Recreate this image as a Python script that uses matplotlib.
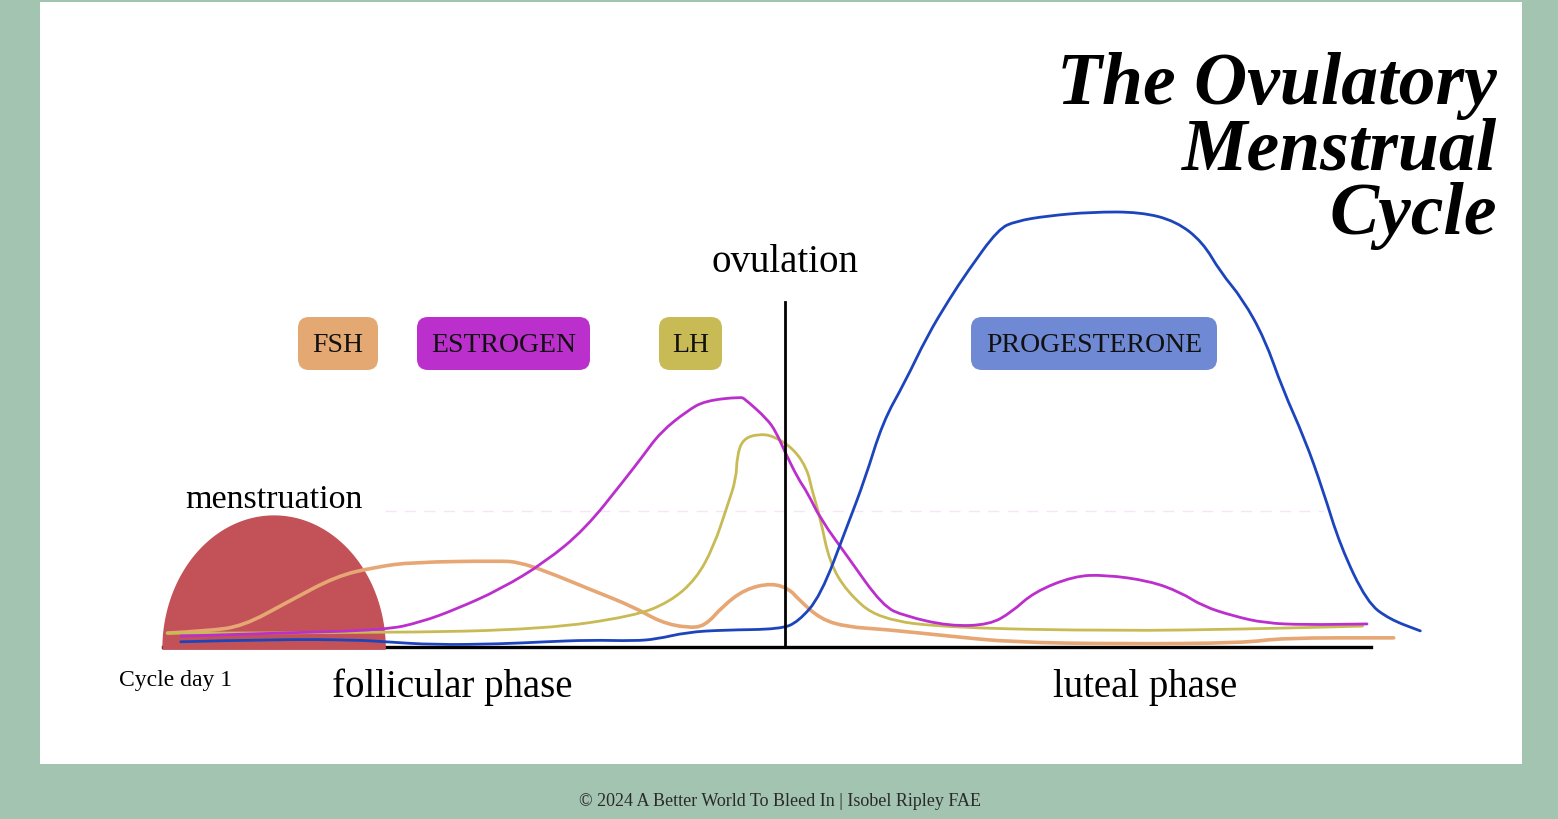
import numpy as np
import matplotlib.pyplot as plt
from matplotlib.patches import FancyBboxPatch, Rectangle, PathPatch
from matplotlib.path import Path

plt.rcParams['font.family'] = ['Liberation Serif', 'DejaVu Serif']

# cycle day (x) and relative hormone level (y, progesterone peak = 100)
fsh_day = [0.1, 1.0, 1.8, 2.8, 3.9, 4.8, 5.6, 7.6, 8.0, 8.6, 9.6, 10.6, 11.2, 11.8, 12.2,
           12.6, 13.1, 13.7, 14.1, 14.3, 14.8, 15.4, 16.2, 17.7, 19.1, 21.5, 24.3, 25.2, 27.7]
fsh_level = [3.2, 3.7, 4.8, 10.3, 16.3, 18.4, 19.5, 19.8, 19.5, 17.5, 13.3, 9.2, 5.7, 4.4, 4.8,
             9.4, 13.3, 14.7, 13.3, 11.0, 6.4, 4.6, 4.1, 2.5, 1.1, 0.7, 0.9, 2.1, 2.1]

estrogen_day = [0.4, 2.6, 5.0, 5.8, 6.6, 7.6, 8.6, 9.5, 10.4, 10.8, 11.2, 11.8, 12.2, 13.0,
                13.1, 13.6, 13.8, 14.0, 14.3, 14.5, 14.8, 15.4, 16.2, 16.7, 17.7, 18.6, 19.1,
                19.6, 20.5, 21.2, 22.2, 22.9, 23.4, 24.1, 24.8, 25.7, 27.1]
estrogen_level = [2.5, 3.2, 3.9, 5.7, 8.7, 13.3, 19.5, 27.1, 38.6, 43.9, 49.4, 54.3, 56.6, 57.5,
                  57.0, 52.4, 49.4, 44.8, 38.6, 35.6, 29.4, 20.9, 9.4, 7.1, 4.8, 5.1, 8.0,
                  12.6, 16.3, 16.6, 15.2, 12.6, 9.4, 7.1, 5.5, 5.1, 5.3]

lh_day = [0.1, 5.0, 8.6, 10.6, 11.4, 12.0, 12.4, 12.7, 12.9, 12.92, 13.05, 13.4, 13.75, 14.2,
          14.5, 14.6, 14.8, 15.0, 15.4, 16.1, 17.7, 21.5, 24.3, 27.0]
lh_level = [3.2, 3.2, 4.1, 7.1, 10.3, 15.6, 23.2, 32.4, 38.6, 43.9, 47.8, 49.0, 48.5, 45.5,
            40.9, 36.3, 29.4, 19.5, 12.6, 6.4, 4.4, 3.7, 4.1, 4.8]

prog_day = [0.4, 2.6, 4.4, 5.0, 6.1, 7.6, 8.6, 9.6, 10.6, 11.1, 11.8, 12.6, 13.9, 14.3, 14.8,
            15.4, 15.8, 16.2, 16.7, 17.2, 17.7, 18.1, 18.8, 19.2, 19.9, 20.9, 22.0, 22.8, 23.4,
            23.8, 24.3, 24.8, 25.2, 25.7, 26.1, 26.5, 27.1, 27.6, 28.3]
prog_level = [1.2, 1.8, 1.6, 1.2, 0.5, 0.7, 1.2, 1.6, 1.4, 1.8, 3.4, 3.9, 4.1, 5.8, 11.7,
              27.8, 38.6, 51.7, 60.9, 71.5, 80.0, 86.2, 96.1, 97.9, 99.1, 100, 100, 97.9, 93.1,
              86.2, 80.0, 70.8, 59.3, 47.8, 36.3, 23.2, 10.3, 6.4, 3.7]

ovulation_day = 14.0
ovulation_top = 79.3
menses = (0.0, 5.0)      # start / end day of the bleed dome
menses_height = 30.6
axis_end = 27.2

labels = ['FSH', 'ESTROGEN', 'LH', 'PROGESTERONE']
label_colors = ['#e4a872', '#bb2fcc', '#c8bb55', '#7089d4']


def smooth_line(ax, xs, ys, **kw):
    # quadratic bezier through the midpoints, read points used as control points
    pts = np.column_stack([xs, ys])
    verts = [pts[0]]
    codes = [Path.MOVETO]
    for i in range(1, len(pts) - 1):
        verts += [pts[i], (pts[i] + pts[i + 1]) / 2]
        codes += [Path.CURVE3, Path.CURVE3]
    verts.append(pts[-1])
    codes.append(Path.LINETO)
    ax.add_patch(PathPatch(Path(verts, codes), fill=False, clip_on=False,
                           capstyle='round', joinstyle='round', **kw))


W, H = 1558, 820
fig = plt.figure(figsize=(W / 100, H / 100), dpi=100, facecolor='#a3c4b1')

# overlay in pixel units for the panel, boxes and text
bg = fig.add_axes([0, 0, 1, 1])
bg.set_xlim(0, W)
bg.set_ylim(H, 0)
bg.axis('off')
bg.add_patch(Rectangle((40, 3), 1482, 762, facecolor='white', edgecolor='none'))

# chart axes: day 0..28 on x, level 0..100 on y
ax = fig.add_axes([163 / W, 1 - 648 / H, 1244 / W, 435 / H])
ax.set_xlim(0, 28)
ax.set_ylim(0, 100)
ax.axis('off')
ax.patch.set_alpha(0)

t = np.linspace(0, np.pi, 100)
mid = (menses[0] + menses[1]) / 2
rad = (menses[1] - menses[0]) / 2
ax.fill(mid + rad * np.cos(t), -0.5 + menses_height * np.sin(t), color='#c25257', zorder=2,
        clip_on=False)

ax.plot([0, axis_end], [0, 0], color='black', lw=2.4, zorder=1, clip_on=False)
ax.plot([5.0, 26.1], [31.3, 31.3], color='#d070d0', lw=1, alpha=0.18, ls=(0, (8, 6)), zorder=1)

smooth_line(ax, fsh_day, fsh_level, edgecolor='#e6a774', lw=2.6, zorder=3)
smooth_line(ax, lh_day, lh_level, edgecolor='#c8bb55', lw=2.0, zorder=3)
smooth_line(ax, estrogen_day, estrogen_level, edgecolor='#bb2fcc', lw=2.0, zorder=3)
smooth_line(ax, prog_day, prog_level, edgecolor='#1c45bd', lw=2.0, zorder=3)

ax.plot([ovulation_day, ovulation_day], [0, ovulation_top], color='black', lw=2.0, zorder=4,
        clip_on=False)

# hormone label boxes
boxes = [(298, 80), (417, 173), (659, 63), (971, 246)]
for (bx, bw), lab, col in zip(boxes, labels, label_colors):
    bg.add_patch(FancyBboxPatch((bx, 318), bw, 53, boxstyle='round,pad=0,rounding_size=11',
                                facecolor=col, edgecolor='none'))
    bg.text(bx + bw / 2, 346, lab, fontsize=20, ha='center', va='center', color='#111111')

bg.text(785, 272, 'ovulation', fontsize=28, ha='center', va='baseline')
bg.text(274, 508, 'menstruation', fontsize=24.5, ha='center', va='baseline')
bg.text(452, 697, 'follicular phase', fontsize=28, ha='center', va='baseline')
bg.text(1145, 697, 'luteal phase', fontsize=28, ha='center', va='baseline')
bg.text(176, 686, 'Cycle day 1', fontsize=17, ha='center', va='baseline')

for txt, y in [('The Ovulatory', 104), ('Menstrual', 170), ('Cycle', 234)]:
    bg.text(1497, y, txt, fontsize=53, fontweight='bold', fontstyle='italic', ha='right',
            va='baseline', color='black')

bg.text(780, 806, '\u00a9 2024 A Better World To Bleed In | Isobel Ripley FAE', fontsize=13,
        ha='center', va='baseline', color='#2a2a2a')

fig.savefig('out.png', dpi=100, facecolor=fig.get_facecolor())
